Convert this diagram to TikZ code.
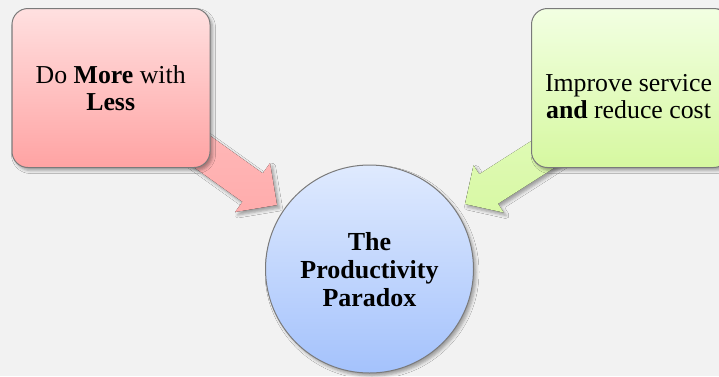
\documentclass[tikz,border=0pt]{standalone}
\usepackage{fontspec}
\setmainfont{Liberation Serif}
\usetikzlibrary{shadows.blur}
\definecolor{bg}{HTML}{F2F2F2}
\definecolor{redtop}{HTML}{FFE0E0}
\definecolor{redbot}{HTML}{FFA3A3}
\definecolor{greentop}{HTML}{F2FFE2}
\definecolor{greenbot}{HTML}{D6F8A0}
\definecolor{bluetop}{HTML}{DFEAFE}
\definecolor{bluebot}{HTML}{A4C2FC}
\definecolor{edge}{HTML}{7A7A7A}
\tikzset{
  softshadow/.style={blur shadow={shadow xshift=2.5pt,shadow yshift=-3pt,shadow blur radius=3pt,shadow opacity=35}},
  goalbox/.style={draw=edge,line width=1pt,rounded corners=16pt,minimum width=198pt,minimum height=159pt,softshadow},
  boxtext/.style={align=center,inner sep=0pt,font=\fontsize{25.8pt}{27.5pt}\selectfont},
  fatarrow/.style={draw=none,softshadow},
}
\begin{document}
\begin{tikzpicture}[x=1pt,y=-1pt]
\useasboundingbox (0,0) rectangle (719,376);
\fill[bg] (0,0) rectangle (719,376);
% connectors (big block arrows), drawn first so boxes cover their tails
\coordinate (tipL) at (277,205);
\coordinate (tipR) at (465,204);
\fill[fatarrow,top color=redtop!40!redbot,bottom color=redbot!90!white]
  (tipL) -- (270.01,163.15) -- (262.75,173.32) -- (165.07,103.6)
  -- (144.73,132.1) -- (242.41,201.82) -- (235.15,211.99) -- cycle;
\fill[fatarrow,top color=greentop!40!greenbot,bottom color=greenbot!95!white]
  (tipR) -- (473.54,165.34) -- (479.19,174.19) -- (582.03,108.55)
  -- (600.87,138.05) -- (498.02,203.69) -- (503.66,212.54) -- cycle;
% boxes
\node[goalbox,top color=redtop,bottom color=redbot] (less) at (111,88) {};
\node[goalbox,top color=greentop,bottom color=greenbot] (cost) at (630.5,88) {};
\node[boxtext] (lesstext) at (110.7,88) {Do \textbf{More} with\\\textbf{Less}};
\node[boxtext] (costtext) at (628.5,96.5) {Improve service\\\textbf{and} reduce cost};
% circle
\node[circle,draw=edge,line width=1pt,minimum size=208pt,inner sep=0pt,
      top color=bluetop,bottom color=bluebot,softshadow] (paradox) at (369.5,269) {};
\node[align=center,inner sep=0pt,font=\fontsize{26pt}{28pt}\selectfont\bfseries] (paradoxtext) at (369.5,270)
  {The\\Productivity\\Paradox};
\end{tikzpicture}
\end{document}
